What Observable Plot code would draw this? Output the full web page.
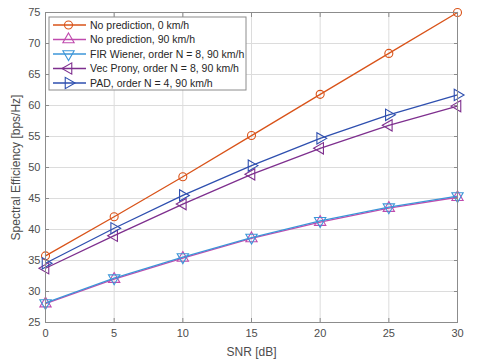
<!DOCTYPE html>
<html><head><meta charset="utf-8">
<script src="https://cdn.jsdelivr.net/npm/d3@7"></script>
<script src="https://cdn.jsdelivr.net/npm/@observablehq/plot@0.6"></script>
<style>
html,body{margin:0;padding:0;background:#fff;}
#chart{width:485px;height:363px;}
svg{font-family:"Liberation Sans",Arial,sans-serif;}
</style></head>
<body><div id="chart"></div>
<script>
const snr = [0, 5, 10, 15, 20, 25, 30];
const noPred0 = [35.75, 42.05, 48.5, 55.15, 61.8, 68.4, 75.0];
const noPred90 = [28.05, 32.0, 35.4, 38.55, 41.2, 43.45, 45.2];
const firWiener = [28.15, 32.15, 35.55, 38.7, 41.4, 43.6, 45.4];
const vecProny = [33.75, 39.0, 44.1, 48.9, 53.1, 56.8, 59.9];
const pad = [34.55, 40.2, 45.5, 50.3, 54.7, 58.5, 61.7];
const seriesNames = ["No prediction, 0 km/h", "No prediction, 90 km/h", "FIR Wiener, order N = 8, 90 km/h", "Vec Prony, order N = 8, 90 km/h", "PAD, order N = 4, 90 km/h"];
const xTicks = [0, 5, 10, 15, 20, 25, 30];
const yTicks = [25, 30, 35, 40, 45, 50, 55, 60, 65, 70, 75];

const colors = ["#D95319", "#C04BAE", "#3C96D8", "#7E2F8E", "#2E4FAF"];
const symbols = ["circle", "triangle", "triangle", "triangle", "triangle"];
const rotates = [0, 0, 180, -90, 90];
const allValues = [noPred0, noPred90, firWiener, vecProny, pad];

const data = [];
allValues.forEach((vals, i) => vals.forEach((v, j) => data.push({series: seriesNames[i], x: snr[j], y: v, idx: i})));

const order = [1, 2, 0, 3, 4];
const marks = [
  Plot.gridX(xTicks, {stroke: "#dcdcdc", strokeOpacity: 1}),
  Plot.gridY(yTicks, {stroke: "#dcdcdc", strokeOpacity: 1}),
];
order.forEach(i => {
  const d = data.filter(r => r.idx === i);
  marks.push(Plot.line(d, {x: "x", y: "y", stroke: colors[i], strokeWidth: 1.3}));
  marks.push(Plot.dot(d, {x: "x", y: "y", stroke: colors[i], fill: "none", symbol: symbols[i], rotate: rotates[i], r: i === 0 ? 4 : 4.2, strokeWidth: 1.1}));
});
marks.push(
  Plot.frame({stroke: "#8c8c8c", strokeWidth: 1}),
  Plot.axisX(xTicks, {anchor: "bottom", tickSize: -4, tickPadding: 11, stroke: "#8c8c8c", color: "#4d4d4d", fontSize: 11, label: "SNR [dB]", labelAnchor: "center", labelArrow: "none", labelOffset: 33}),
  Plot.axisX(xTicks, {anchor: "top", tickSize: -4, tickFormat: () => "", label: null, stroke: "#8c8c8c"}),
  Plot.axisY(yTicks, {anchor: "left", tickSize: -4, tickPadding: 9, stroke: "#8c8c8c", color: "#4d4d4d", fontSize: 11, label: "Spectral Efficiency [bps/Hz]", labelAnchor: "center", labelArrow: "none", labelOffset: 34}),
  Plot.axisY(yTicks, {anchor: "right", tickSize: -4, tickFormat: () => "", label: null, stroke: "#8c8c8c"})
);

const chart = Plot.plot({
  width: 485, height: 363,
  marginLeft: 45, marginRight: 28, marginTop: 12, marginBottom: 41,
  x: {domain: [0, 30]},
  y: {domain: [25, 75]},
  style: {fontFamily: "'Liberation Sans', Arial, sans-serif", fontSize: "11px", color: "#4d4d4d", background: "#fff"},
  marks
});
document.getElementById("chart").appendChild(chart);

const svg = d3.select(chart);
svg.selectAll('g[aria-label="x-axis label"] text, g[aria-label="y-axis label"] text').attr("font-size", 12).style("font-size", "12px");

// Legend (inside plot area, top-left)
const lg = svg.append("g").attr("transform", "translate(49,17)").attr("text-anchor", "start");
lg.append("rect").attr("width", 197).attr("height", 73).attr("fill", "#fff").attr("stroke", "#8c8c8c").attr("stroke-width", 1);
const symGen = [d3.symbolCircle, d3.symbolTriangle, d3.symbolTriangle, d3.symbolTriangle, d3.symbolTriangle];
seriesNames.forEach((name, i) => {
  const y = 8 + i * 14.5;
  const g = lg.append("g").attr("transform", `translate(0,${y})`);
  g.append("line").attr("x1", 4).attr("x2", 37).attr("y1", 0).attr("y2", 0).attr("stroke", colors[i]).attr("stroke-width", 1.3);
  const r = i === 0 ? 4 : 4.2;
  g.append("path").attr("d", d3.symbol(symGen[i], Math.PI * r * r)()).attr("transform", `translate(19.5,0) rotate(${rotates[i]})`).attr("fill", "none").attr("stroke", colors[i]).attr("stroke-width", 1.1);
  g.append("text").attr("x", 41).attr("y", 0).attr("dy", "0.35em").attr("text-anchor", "start").attr("fill", "#262626").attr("font-size", 10.5).text(name);
});
</script>
</body></html>
